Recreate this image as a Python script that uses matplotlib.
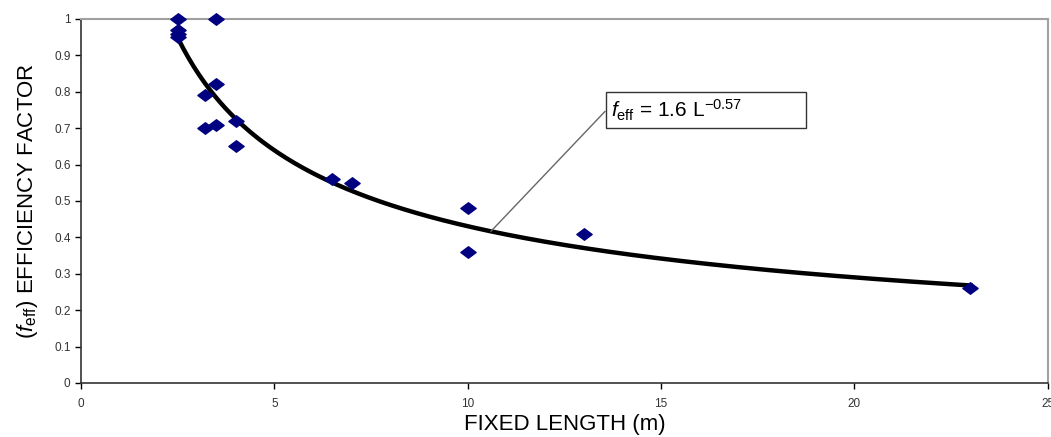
import numpy as np
import matplotlib.pyplot as plt
from matplotlib.path import Path

plt.rcParams['font.family'] = ['Liberation Sans', 'DejaVu Sans']
plt.rcParams['mathtext.fontset'] = 'custom'
plt.rcParams['mathtext.rm'] = 'Liberation Sans'
plt.rcParams['mathtext.it'] = 'Liberation Sans:italic'

# measured points: fixed length (m) vs efficiency factor
length = [2.5, 2.5, 2.5, 2.5, 3.5, 3.5, 3.2, 3.2, 3.5, 4.0, 4.0, 6.5, 7.0, 10.0, 10.0, 13.0, 23.0]
eff = [1.00, 0.97, 0.96, 0.95, 1.00, 0.82, 0.79, 0.70, 0.71, 0.72, 0.65, 0.56, 0.55, 0.48, 0.36, 0.41, 0.26]

# fitted power law f = a * L^b
a, b = 1.6, -0.57
x_ticks = [0, 5, 10, 15, 20, 25]
y_ticks = [0, 0.1, 0.2, 0.3, 0.4, 0.5, 0.6, 0.7, 0.8, 0.9, 1]

fig = plt.figure(figsize=(10.51, 4.37), dpi=100)
ax = fig.add_axes([0.077, 0.1236, 0.92, 0.833])

L = np.linspace(min(length), max(length), 300)
ax.plot(L, a * L ** b, color='black', linewidth=3.2, zorder=2)

diamond = Path([(-1, 0), (0, 0.75), (1, 0), (0, -0.75), (-1, 0)],
               [Path.MOVETO, Path.LINETO, Path.LINETO, Path.LINETO, Path.CLOSEPOLY])
ax.plot(length, eff, linestyle='none', marker=diamond, markersize=11,
        color='#000080', zorder=3, clip_on=False)

# equation label
x_ann = 10.6
ax.annotate(r'$f_{\rm eff}$ = 1.6 L$^{-0.57}$' + '           ',
            xy=(x_ann, a * x_ann ** b), xytext=(13.7, 0.715),
            fontsize=15, ha='left', va='bottom',
            bbox=dict(boxstyle='square,pad=0.25', fc='white', ec='#333333', lw=1),
            arrowprops=dict(arrowstyle='-', color='#666666', lw=1,
                            relpos=(0, 0.69), shrinkA=0, shrinkB=0))

ax.set_xlim(0, 25)
ax.set_ylim(0, 1)
ax.set_xticks(x_ticks)
ax.set_yticks(y_ticks)
ax.set_xticklabels([str(t) for t in x_ticks])
ax.set_yticklabels(['0'] + ['%.1f' % t for t in y_ticks[1:-1]] + ['1'])
ax.tick_params(direction='out', length=4, width=1, labelsize=8.5, colors='black',
               labelcolor='#333333')
ax.tick_params(axis='x', pad=7)

for s in ['top', 'right']:
    ax.spines[s].set_color('#a0a0a0')
    ax.spines[s].set_linewidth(1.5)
for s in ['left', 'bottom']:
    ax.spines[s].set_color('#333333')
    ax.spines[s].set_linewidth(1.2)

ax.set_xlabel('FIXED LENGTH (m)', fontsize=16, labelpad=3)
ax.set_ylabel(r'($f_{\rm eff}$) EFFICIENCY FACTOR', fontsize=16, labelpad=10)

fig.savefig('out.png', dpi=100)
